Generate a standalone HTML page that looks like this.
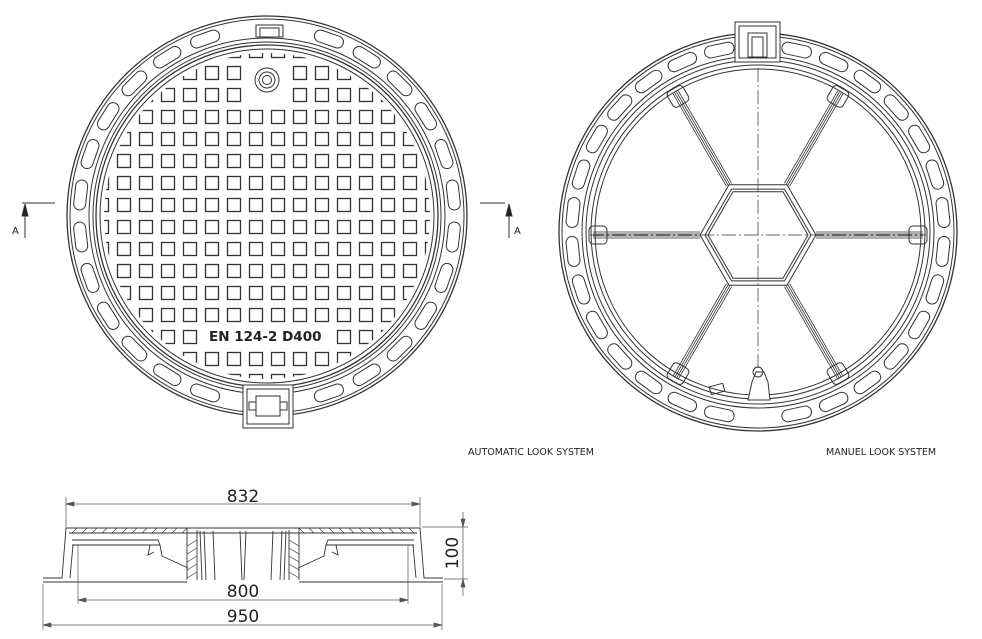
<!DOCTYPE html>
<html><head><meta charset="utf-8"><style>
html,body{margin:0;padding:0;background:#fff;}
svg{display:block;}
text{font-family:"DejaVu Sans","Liberation Sans",sans-serif;fill:#222;}
</style></head><body>
<svg id="s" width="982" height="639" viewBox="0 0 982 639" xmlns="http://www.w3.org/2000/svg" fill="none" stroke="#333" stroke-width="1">
<defs>
<clipPath id="gc"><circle cx="267" cy="216" r="163"/></clipPath>
</defs>
<!-- LEFT COVER -->
<circle cx="267" cy="216" r="200" stroke-width="1.3"/>
<circle cx="267" cy="216" r="197"/>
<circle cx="267" cy="216" r="178"/>
<circle cx="267" cy="216" r="174"/>
<circle cx="267" cy="216" r="171" stroke-width="1.3"/>
<circle cx="267" cy="216" r="167"/>
<g id="lslots"></g>
<g id="grid" clip-path="url(#gc)" stroke-width="1.3"></g>
<!-- logo -->
<circle cx="267" cy="80" r="12"/><circle cx="267" cy="80" r="8"/><circle cx="267" cy="80" r="4.5"/>
<!-- hinges -->
<rect x="256" y="25" width="27" height="12" fill="#fff"/><rect x="260" y="28" width="19" height="9"/>
<rect x="243" y="385" width="50" height="43" fill="#fff"/>
<rect x="247" y="389" width="42" height="35"/><rect x="256" y="396" width="24" height="20"/>
<rect x="249" y="402" width="7" height="8"/><rect x="280" y="402" width="7" height="8"/>
<text x="209" y="341" font-size="13.5" font-weight="bold" stroke="none" fill="#555" font-family="Liberation Sans">EN 124-2  D400</text>
<!-- section markers -->
<line x1="22" y1="203" x2="55" y2="203"/>
<line x1="25" y1="205" x2="25" y2="238"/>
<path d="M25 204 L22 216 L28 216 Z" fill="#222"/>
<text x="12" y="234" font-size="10" stroke="none">A</text>
<line x1="480" y1="203" x2="505" y2="203"/>
<line x1="509" y1="205" x2="509" y2="238"/>
<path d="M509 204 L506 216 L512 216 Z" fill="#222"/>
<text x="514" y="234" font-size="10" stroke="none">A</text>

<!-- RIGHT FRAME -->
<circle cx="758" cy="232" r="199" stroke-width="1.3"/>
<circle cx="758" cy="232" r="196"/>
<circle cx="758" cy="232" r="176"/>
<circle cx="758" cy="232" r="172"/>
<circle cx="758" cy="232" r="167"/>
<circle cx="758" cy="232" r="163"/>
<g id="rslots"></g>
<g id="spokes"></g>
<line x1="758" y1="68" x2="758" y2="400" stroke-dasharray="14 3 2 3" stroke-width="0.7"/>
<line x1="590" y1="235" x2="926" y2="235" stroke-dasharray="14 3 2 3" stroke-width="0.7"/>
<rect x="735" y="22" width="45" height="40" fill="#fff"/>
<rect x="739" y="26" width="37" height="32"/>
<rect x="748" y="33" width="19" height="24"/>
<rect x="752" y="37" width="11" height="20"/>
<path d="M748 400 L752 382 L756 372 L764 372 L768 382 L770 400 Z" fill="#fff"/>
<circle cx="758" cy="372" r="5"/>
<rect x="710" y="385" width="14" height="8" transform="rotate(-15 717 389)"/>
<text x="468" y="455" font-size="9.5" stroke="none">AUTOMATIC LOOK SYSTEM</text>
<text x="826" y="455" font-size="9.5" stroke="none">MANUEL LOOK SYSTEM</text>

<!-- SECTION VIEW -->
<g stroke-width="0.7" stroke="#555">
<line x1="66" y1="497" x2="66" y2="527"/><line x1="420" y1="497" x2="420" y2="527"/>
<line x1="66" y1="504" x2="420" y2="504"/>
<path d="M66 504 l8 -2 v4z M420 504 l-8 -2 v4z" fill="#555"/>
<line x1="78" y1="545" x2="78" y2="604"/><line x1="408" y1="545" x2="408" y2="604"/>
<line x1="78" y1="600" x2="408" y2="600"/>
<path d="M78 600 l8 -2 v4z M408 600 l-8 -2 v4z" fill="#555"/>
<line x1="43" y1="584" x2="43" y2="630"/><line x1="442" y1="584" x2="442" y2="630"/>
<line x1="43" y1="625" x2="442" y2="625"/>
<path d="M43 625 l8 -2 v4z M442 625 l-8 -2 v4z" fill="#555"/>
<line x1="422" y1="527" x2="468" y2="527"/><line x1="444" y1="579" x2="468" y2="579"/>
<line x1="463" y1="512" x2="463" y2="596"/>
<path d="M463 527 l-2 -8 h4z M463 579 l-2 8 h4z" fill="#555"/>
</g>
<text x="243" y="502" font-size="17" text-anchor="middle" stroke="none">832</text>
<text x="243" y="597" font-size="17" text-anchor="middle" stroke="none">800</text>
<text x="243" y="622" font-size="17" text-anchor="middle" stroke="none">950</text>
<text x="0" y="0" font-size="17" text-anchor="middle" stroke="none" transform="translate(458 553) rotate(-90)">100</text>
<g id="sec" stroke-width="0.9"></g>
</svg>
<script>
var NS="http://www.w3.org/2000/svg";
function el(p,t,a){var e=document.createElementNS(NS,t);for(var k in a)e.setAttribute(k,a[k]);p.appendChild(e);return e;}
var g=document.getElementById('grid');
for(var r=-8;r<=7;r++){var cy=216+11+22*r;
 for(var c=-8;c<=7;c++){var cx=267+11+22*c;
  var d=Math.hypot(cx-267,cy-216); if(d>172)continue;
  if((cy==73||cy==95)&&(cx==256||cx==278))continue;
  if(cy==337&&cx>=205&&cx<=330)continue;
  el(g,'rect',{x:cx-6.5,y:cy-6.5,width:13,height:13});}}
function slots(id,cx,cy,rm,n,skip){var p=document.getElementById(id);
 for(var i=0;i<n;i++){var a=i*360/n+180/n; var ad=((a-270)%360+360)%360, bd=((a-90)%360+360)%360;
  if(Math.min(ad,360-ad)<skip||Math.min(bd,360-bd)<skip)continue;
  var rad=a*Math.PI/180,x=cx+rm*Math.cos(rad),y=cy+rm*Math.sin(rad);
  el(p,'rect',{x:x-15,y:y-6,width:30,height:12,rx:6,transform:'rotate('+(a+90)+' '+x+' '+y+')'});}}
slots('lslots',267,216,187.5,28,9);
slots('rslots',758,232,186,30,8);
var sp=document.getElementById('spokes');
var hx=758,hy=235;
function hex(R){var s='';for(var i=0;i<6;i++){var a=i*Math.PI/3;s+=(i?'L':'M')+(hx+R*Math.cos(a)).toFixed(1)+' '+(hy+R*Math.sin(a)).toFixed(1);}return s+'Z';}
el(sp,'path',{d:hex(58)});el(sp,'path',{d:hex(53)});el(sp,'path',{d:hex(50)});
for(var i=0;i<6;i++){var a=i*Math.PI/3,c=Math.cos(a),s=Math.sin(a),nx=-s,ny=c;
 [-3,-1,1,3].forEach(function(o){el(sp,'line',{x1:hx+58*c+o*nx,y1:hy+58*s+o*ny,x2:hx+165*c+o*nx,y2:hy+165*s+o*ny,'stroke-width':0.8});});
 var bx=hx+160*c,by=hy+160*s; el(sp,'rect',{x:bx-9,y:by-9,width:18,height:18,rx:4,transform:'rotate('+(i*60)+' '+bx+' '+by+')'});}
var sc=document.getElementById('sec');
function P(d,o){el(sc,'path',Object.assign({d:d},o||{}));}
function side(m){ // m: mirror function
 var X=function(x){return m?486-x:x;};
 P('M'+X(43)+' 578 H'+X(62)+' L'+X(66)+' 528 H'+X(187)+' V580');
 P('M'+X(43)+' 582 H'+X(187));
 P('M'+X(69)+' 533 H'+X(187));
 P('M'+X(72)+' 540 H'+X(158)+' L'+X(160)+' 545 H'+X(72));
 P('M'+X(70)+' 578 L'+X(73)+' 545');
 P('M'+X(150)+' 545 L'+X(148)+' 555 L'+X(154)+' 552');
 P('M'+X(160)+' 545 L'+X(162)+' 556 L'+X(188)+' 568');
 P('M'+X(197)+' 530 V580');
 for(var x=72;x<185;x+=10)P('M'+X(x)+' 533 L'+X(x+5)+' 528',{'stroke-width':0.6});
 for(var y=540;y<580;y+=8)P('M'+X(187)+' '+(y+6)+' L'+X(197)+' '+y,{'stroke-width':0.6});
 [200,204,213,240].forEach(function(x){P('M'+X(x)+' 531 L'+X(x+2)+' 580');});
}
side(false);side(true);
P('M187 528 H299');P('M187 533 H299');
</script>
</body></html>
